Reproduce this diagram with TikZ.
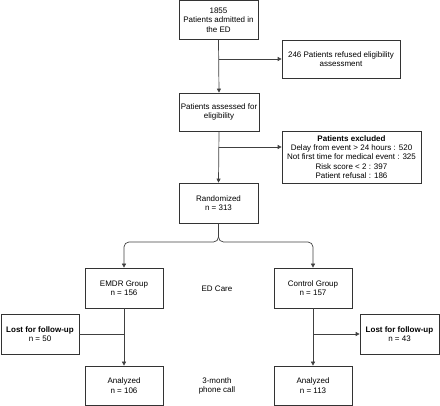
\documentclass[tikz,border=0pt]{standalone}
\usepackage{fontspec}
\setmainfont{Liberation Sans}
\usetikzlibrary{arrows.meta,calc}
\begin{document}
\begin{tikzpicture}[x=1pt,y=-1pt,
  box/.style={draw=black!80,line width=0.7pt,rectangle,align=center,inner sep=1pt,
    font=\fontsize{8}{9.3}\selectfont,text=black},
  lbl/.style={align=center,inner sep=0pt,font=\fontsize{8}{9.3}\selectfont,text=black},
  arr/.style={draw=black!75,line width=0.7pt,-{Triangle[length=4pt,width=4pt]}},
  ln/.style={draw=black!75,line width=0.7pt}]
\useasboundingbox (0,0) rectangle (440,406);
\node[box,minimum width=79pt,minimum height=39pt] (b1) at (218.5,20) {1855\\Patients admitted in\\the ED};
\node[box,minimum width=118pt,minimum height=38pt] (b2) at (341,59) {246 Patients refused eligibility\\assessment};
\node[box,minimum width=80pt,minimum height=38pt] (b3) at (219,112) {Patients assessed for\\eligibility};
\node[box,minimum width=139pt,minimum height=52pt] (b4) at (351.5,157) {\textbf{Patients excluded}\\Delay from event > 24 hours : 520\\Not first time for medical event : 325\\Risk score < 2 : 397\\Patient refusal : 186};
\node[box,minimum width=79pt,minimum height=40pt] (rand) at (218.5,203) {Randomized\\n = 313};
\node[box,minimum width=78pt,minimum height=40pt] (emdr) at (124,288) {EMDR Group\\n = 156};
\node[box,minimum width=78pt,minimum height=40pt] (ctrl) at (313,288) {Control Group\\n = 157};
\node[box,minimum width=78pt,minimum height=40pt] (lostL) at (40,334) {\textbf{Lost for follow-up}\\n = 50};
\node[box,minimum width=79pt,minimum height=40pt] (lostR) at (399.5,334) {\textbf{Lost for follow-up}\\n = 43};
\node[box,minimum width=78pt,minimum height=39pt] (anL) at (124,385.5) {Analyzed\\n = 106};
\node[box,minimum width=78pt,minimum height=39pt] (anR) at (313,385.5) {Analyzed\\n = 113};
\node[lbl] (edcare) at (217,289) {ED Care};
\node[lbl] (phone) at (217,386) {3-month\\phone call};
\coordinate (x4) at (219,147);
\coordinate (split) at (218.5,242);
\draw[arr] (b1.south) -- (b3.north);
\draw[arr] (b1.south |- b2.west) -- (b2.west);
\draw[arr] (b3.south) -- (rand.north);
\draw[arr] (x4) -- (x4 -| b4.west);
\draw[arr,rounded corners=5pt] (rand.south) -- (split) -| (emdr.north);
\draw[arr,rounded corners=5pt] (rand.south) -- (split) -| (ctrl.north);
\draw[arr] (emdr.south) -- (anL.north);
\draw[ln] (emdr.south |- lostL.east) -- (lostL.east);
\draw[arr] (ctrl.south) -- (anR.north);
\draw[arr] (ctrl.south |- lostR.west) -- (lostR.west);
\end{tikzpicture}
\end{document}
